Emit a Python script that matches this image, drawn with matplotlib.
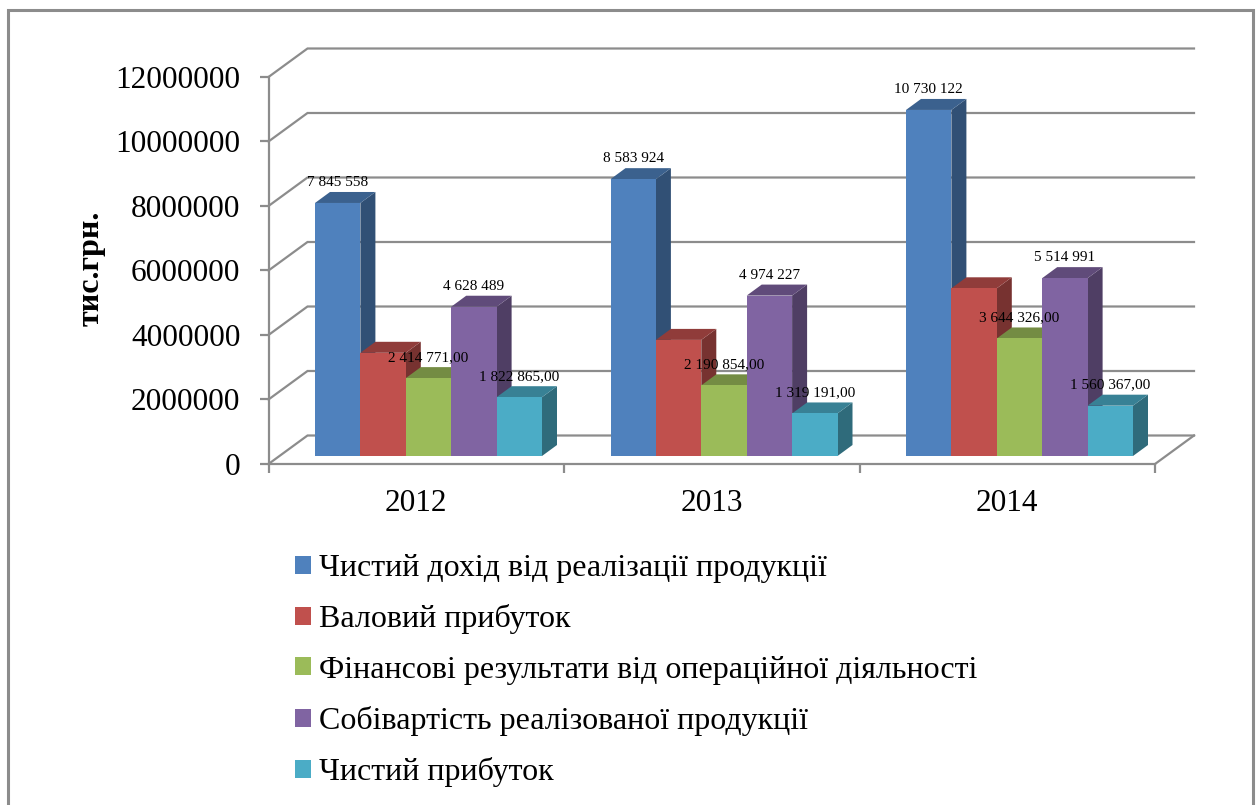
import matplotlib
matplotlib.use("Agg")
import matplotlib.pyplot as plt
from matplotlib.patches import Polygon, Patch
from matplotlib.lines import Line2D
from matplotlib.colors import to_rgb

years = ["2012", "2013", "2014"]
series_names = [
    "Чистий дохід від реалізації продукції",
    "Валовий прибуток",
    "Фінансові результати від операційної діяльності",
    "Собівартість реалізованої продукції",
    "Чистий прибуток",
]
revenue = [7845558, 8583924, 10730122]
gross = [3200000, 3600000, 5200000]
operating = [2414771, 2190854, 3644326]
cost = [4628489, 4974227, 5514991]
net = [1822865, 1319191, 1560367]

revenue_labels = ["7 845 558", "8 583 924", "10 730 122"]
operating_labels = ["2 414 771,00", "2 190 854,00", "3 644 326,00"]
cost_labels = ["4 628 489", "4 974 227", "5 514 991"]
net_labels = ["1 822 865,00", "1 319 191,00", "1 560 367,00"]

y_ticks = [0, 2000000, 4000000, 6000000, 8000000, 10000000, 12000000]
colors = ["#4F81BD", "#C0504D", "#9BBB59", "#8064A2", "#4BACC6"]
GRAY = "#8C8C8C"

W, H = 1258, 805
plt.rcParams["font.family"] = ["Liberation Serif", "DejaVu Serif"]
fig = plt.figure(figsize=(W / 100, H / 100), dpi=100, facecolor="white")

L, R, T, B = 268.5, 1155.0, 77.0, 464.0
ax = fig.add_axes([L / W, 1 - B / H, (R - L) / W, (B - T) / H])
ax.set_xlim(0, 3)
ax.set_ylim(0, 12000000)
ax.patch.set_visible(False)
for s in ["top", "right"]:
    ax.spines[s].set_visible(False)
for s in ["left", "bottom"]:
    ax.spines[s].set_color(GRAY)
    ax.spines[s].set_linewidth(1.6)

ux = 3 / (R - L)           # data per pixel, x
uy = 12000000 / (B - T)    # data per pixel, y

# walls
DX, DY = 39 * ux, 28.5 * uy
for v in y_ticks:
    ax.plot([0, DX, 3 + DX], [v, v + DY, v + DY], color=GRAY, lw=1.6, clip_on=False, zorder=1,
            solid_joinstyle="miter")
ax.plot([3, 3 + DX], [0, DY], color=GRAY, lw=1.6, clip_on=False, zorder=1)

# bars
bar_w = 45.4 * ux
front_x = 46.5 * ux
front_y = 8 * uy
side_x, side_y = 15 * ux, 11 * uy
all_series = [revenue, gross, operating, cost, net]
labelled = {0: revenue_labels, 2: operating_labels, 3: cost_labels, 4: net_labels}


def shade(c, f):
    return tuple(v * f for v in to_rgb(c))


for g in range(3):
    for i, (vals, c) in enumerate(zip(all_series, colors)):
        x0 = g + front_x + i * bar_w
        y0 = front_y
        y1 = y0 + vals[g]
        x1 = x0 + bar_w
        ax.add_patch(Polygon([(x1, y0), (x1 + side_x, y0 + side_y), (x1 + side_x, y1 + side_y), (x1, y1)],
                             closed=True, fc=shade(c, 0.62), ec="none", zorder=3 + g + i * 0.1, clip_on=False))
        ax.add_patch(Polygon([(x0, y1), (x1, y1), (x1 + side_x, y1 + side_y), (x0 + side_x, y1 + side_y)],
                             closed=True, fc=shade(c, 0.75), ec="none", zorder=3 + g + i * 0.1, clip_on=False))
        ax.bar(x0, vals[g], width=bar_w, bottom=y0, align="edge", color=c, zorder=3.01 + g + i * 0.1,
               clip_on=False)

for i, labels in labelled.items():
    for g, text in enumerate(labels):
        x = g + front_x + (i + 0.5) * bar_w
        y = front_y + all_series[i][g] + side_y + 9.5 * uy
        ax.text(x, y, text, ha="center", va="center", fontsize=11, color="black", zorder=20, clip_on=False)

# ticks
ax.set_yticks(y_ticks)
ax.set_yticklabels([str(v) for v in y_ticks], fontsize=22.5)
ax.tick_params(axis="y", length=6.8, width=1.6, color=GRAY, pad=13.5)
ax.set_xticks([0, 1, 2, 3])
ax.set_xticklabels([])
ax.tick_params(axis="x", which="major", length=6.5, width=1.6, color=GRAY)
ax.set_xticks([0.5, 1.5, 2.5], minor=True)
ax.set_xticklabels(years, minor=True, fontsize=22.5)
ax.tick_params(axis="x", which="minor", length=0, pad=18)

ax.set_ylabel("тис.грн.", fontsize=23, fontweight="bold", color="black")
ax.yaxis.set_label_coords((106 - L) / (R - L), (B - 268) / (B - T))

# legend
handles = [Patch(facecolor=c, edgecolor="none") for c in colors]
fs = 23
fpx = fs / 0.72
leg = fig.legend(handles, series_names, loc="upper left",
                 bbox_to_anchor=(295 / W, 1 - 554 / H), frameon=False, fontsize=fs,
                 borderpad=0, borderaxespad=0, handlelength=16 / fpx, handleheight=16 / fpx,
                 handletextpad=8 / fpx, labelspacing=0.668)

# outer frame
fig.add_artist(Line2D([8 / W, 8 / W, 1253 / W, 1253 / W], [0, 1 - 10 / H, 1 - 10 / H, 0],
                      color=GRAY, lw=2.2, solid_joinstyle="miter"))

fig.savefig("out.png", dpi=100, facecolor="white")
